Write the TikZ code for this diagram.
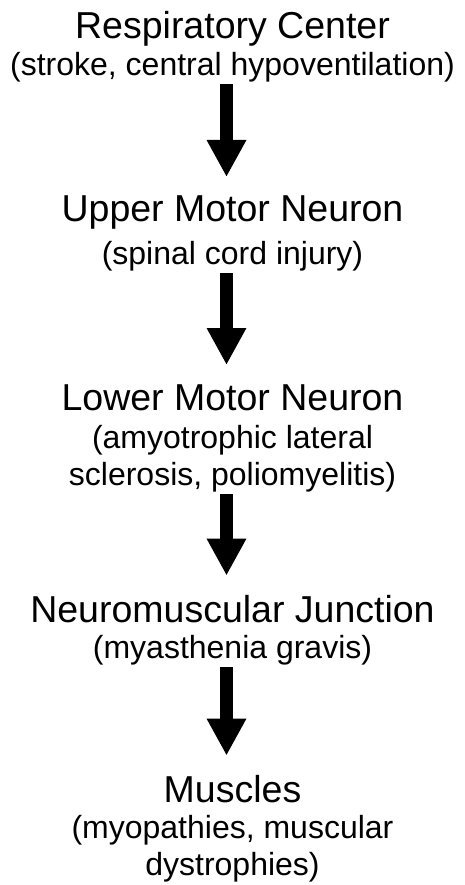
\documentclass[tikz,border=0pt]{standalone}
\usepackage{fontspec}
\setmainfont{Liberation Sans}
\usetikzlibrary{arrows.meta}

\begin{document}
\begin{tikzpicture}[x=1pt, y=-1pt, line cap=butt,
  title/.style={anchor=base, inner sep=0pt, font=\fontsize{37.5}{40}\selectfont},
  sub/.style={anchor=north, inner sep=0pt, align=center, font=\fontsize{32}{37}\selectfont},
  flow/.style={-{Triangle[width=37pt, length=37pt]}, line width=13pt, shorten <=2pt, shorten >=19pt}]

\useasboundingbox (0,0) rectangle (465,885);

\node[title] (rc) at (232.5,39) {Respiratory Center};
\node[sub] (rcsub) at (232.5,52) {(stroke, central hypoventilation)};
\node[title] (umn) at (232.5,222) {Upper Motor Neuron};
\node[sub] (umnsub) at (232.5,241) {(spinal cord injury)};
\node[title] (lmn) at (232.5,410) {Lower Motor Neuron};
\node[sub] (lmnsub) at (232.5,425) {(amyotrophic lateral\\sclerosis, poliomyelitis)};
\node[title] (nmj) at (232.5,622) {Neuromuscular Junction};
\node[sub] (nmjsub) at (232.5,635) {(myasthenia gravis)};
\node[title] (mus) at (232.5,802) {Muscles};
\node[sub] (mussub) at (232.5,815) {(myopathies, muscular\\dystrophies)};

\draw[flow] ([xshift=-6pt]rcsub.south) -- ([xshift=-6pt]umn.north);
\draw[flow] ([xshift=-6pt]umnsub.south) -- ([xshift=-6pt]lmn.north);
\draw[flow] ([xshift=-6pt]lmnsub.south) -- ([xshift=-6pt]nmj.north);
\draw[flow] ([xshift=-6pt]nmjsub.south) -- ([xshift=-6pt]mus.north);

\end{tikzpicture}
\end{document}
